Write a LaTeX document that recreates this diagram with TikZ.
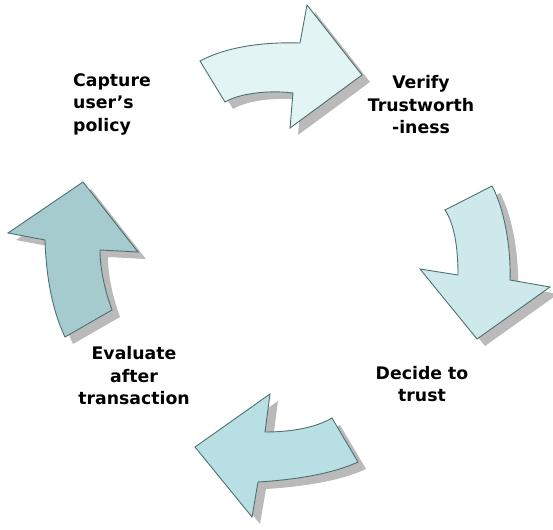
\documentclass[tikz,border=0pt]{standalone}
\usepackage{fontspec}
\setmainfont{DejaVu Sans}
\begin{document}
\begin{tikzpicture}[x=1pt,y=-1pt,
  arrowbody/.style={draw=edgecol, line width=0.9pt, line join=miter},
  shadowbody/.style={fill=black!27, draw=none},
  label/.style={inner sep=0pt, font=\bfseries\fontsize{17.3}{22.5}\selectfont}]
\definecolor{edgecol}{HTML}{4F7070}
\definecolor{aone}{HTML}{E2F4F4}
\definecolor{atwo}{HTML}{CDE9EC}
\definecolor{athree}{HTML}{B8DFE3}
\definecolor{afour}{HTML}{A5CBCE}
\useasboundingbox (0,0) rectangle (553,529);
\def\arrowA{(200,61) .. controls (230,45) and (270,42) .. (300,43) -- (307,5) -- (362,75) -- (290,128) -- (293,93) .. controls (270,90) and (240,93) .. (225,102) -- cycle}
\def\arrowB{(445,210) -- (492,186) .. controls (505,210) and (511,250) .. (510,280) -- (550,287) -- (477,339) -- (420,269) -- (458,275) .. controls (458,250) and (455,225) .. (445,210) -- cycle}
\def\arrowC{(332,418) .. controls (315,428) and (290,432) .. (265,432) -- (270,394) -- (195,447) -- (252,517) -- (258,482) .. controls (290,480) and (330,475) .. (358,462) -- cycle}
\def\arrowD{(65,337) -- (112,310) .. controls (103,285) and (100,265) .. (100,250) -- (138,252) -- (83,182) -- (8,233) -- (45,240) .. controls (46,275) and (52,310) .. (65,337) -- cycle}
\begin{scope}[shift={(8,7)}]
  \path[shadowbody] \arrowA;
  \path[shadowbody] \arrowB;
  \path[shadowbody] \arrowC;
  \path[shadowbody] \arrowD;
\end{scope}
\filldraw[arrowbody, fill=aone] \arrowA;
\filldraw[arrowbody, fill=atwo] \arrowB;
\filldraw[arrowbody, fill=athree] \arrowC;
\filldraw[arrowbody, fill=afour] \arrowD;
\node[label, align=left, anchor=west] (capture) at (73,104) {Capture\\user’s\\policy};
\node[label, align=center] (verify) at (421,105) {Verify\\Trustworth\\-iness};
\node[label, align=center] (decide) at (422,384) {Decide to\\trust};
\node[label, align=center] (evaluate) at (134,376) {Evaluate\\after\\transaction};
\end{tikzpicture}
\end{document}
